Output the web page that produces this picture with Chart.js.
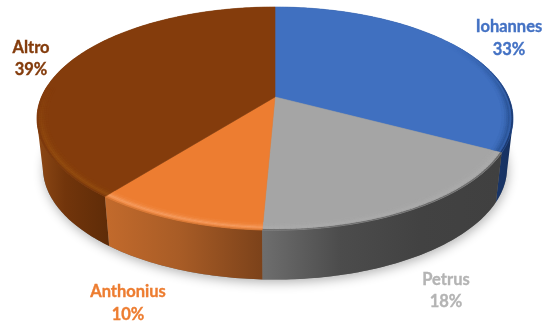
<!DOCTYPE html>
<html><head><meta charset="utf-8">
<style>html,body{margin:0;padding:0;background:#fff}canvas{display:block;filter:blur(0.4px)}</style>
<script src="https://cdn.jsdelivr.net/npm/chart.js@4"></script>
</head><body><canvas id="c" width="544" height="324"></canvas>
<script>
const categories = ['Iohannes','Petrus','Anthonius','Altro'];
const shares = [32.8,17.9,9.9,39.4];
const faceColors = ['#4070c0','#a5a5a5','#ed7d31','#843c0c'];
const labelColors = ['#4472c4','#b4b4b4','#ed7d31','#843c0c'];
const labelCentres = [[509,27,50],[446,280,302],[128,292,315],[31,48,70]];
const sideStops = [
  [[480,'#1c3a70'],[515,'#16305e']],
  [[262,'#6e6e6e'],[340,'#4c4c4c'],[420,'#424242'],[500,'#404040']],
  [[107,'#c26a2c'],[180,'#a85c26'],[262,'#7c421a']],
  [[38,'#8c4815'],[65,'#72350b'],[108,'#5f2c08']]
];
const rimEdge = ['#1c3a70','#6a6a6a','#d87a38','#7c3a0e'];
const rimPeak = ['#2c5699','#ababab','#f59c60','#924c10'];
const rimFadeStart = [0.55,0.15,0.15,0.1];
const paintOrder = [0,3,2,1];

const CX=275, CY=97, R=233.5, S=107.4, K=-0.193, DEPTH=49.5, BOTTOM_SCALE=0.975;
function proj(th,s,bottom){
  const u=Math.sin(th)*s, v=-Math.cos(th)*s, w=1+K*v, b=bottom?BOTTOM_SCALE:1;
  return [CX+R*b*u/w, CY+S*v/w+(bottom?DEPTH:0)];
}
function arcPts(a,b,s,bottom){
  const n=Math.max(4,Math.ceil(Math.abs(b-a)*60)),p=[];
  for(let i=0;i<=n;i++)p.push(proj(a+(b-a)*i/n,s,bottom));
  return p;
}
function poly(ctx,pts){ctx.beginPath();pts.forEach((p,i)=>i?ctx.lineTo(p[0],p[1]):ctx.moveTo(p[0],p[1]));ctx.closePath();}
function hex(c){return [1,3,5].map(i=>parseInt(c.substr(i,2),16));}
function mixRgb(x,y,t){return x.map((v,i)=>v+(y[i]-v)*t);}
function css(x){return 'rgb('+x.map(Math.round).join(',')+')';}
// the wall swept between the top rim and the bottom rim, so the silhouette stays smooth
function sweptWall(ctx,a,b){
  const n=Math.ceil((b-a)*60);
  ctx.beginPath();
  for(let k=0;k<n;k++){
    const t0=a+(b-a)*k/n, t1=a+(b-a)*(k+1)/n;
    const p=[proj(t0,1,false),proj(t1,1,false),proj(t1,1,true),proj(t0,1,true)];
    const area=(p[1][0]-p[0][0])*(p[2][1]-p[0][1])-(p[1][1]-p[0][1])*(p[2][0]-p[0][0]);
    if(area<0)p.reverse();
    p.forEach((q,j)=>j?ctx.lineTo(q[0],q[1]):ctx.moveTo(q[0],q[1]));
    ctx.closePath();
  }
  ctx.fill();
}

const pie3d={id:'pie3d',beforeDatasetsDraw(chart){
  const ctx=chart.ctx, arcs=chart.getDatasetMeta(0).data;
  const ang=arcs.map(e=>[e.startAngle+Math.PI/2,e.endAngle+Math.PI/2]);
  ctx.save();
  // soft ground shadow
  ctx.save();
  ctx.shadowColor='rgba(0,0,0,0.3)';ctx.shadowBlur=11;ctx.shadowOffsetY=3;ctx.shadowOffsetX=1;
  ctx.fillStyle='#777';
  poly(ctx,arcPts(0,Math.PI*2,1,true));ctx.fill();
  ctx.restore();
  // side walls
  paintOrder.forEach(i=>{
    const [a,b]=ang[i];
    const x0=sideStops[i][0][0],x1=sideStops[i][sideStops[i].length-1][0];
    const g=ctx.createLinearGradient(x0,0,x1,0);
    sideStops[i].forEach(st=>g.addColorStop((st[0]-x0)/(x1-x0),st[1]));
    ctx.fillStyle=g;
    sweptWall(ctx,a,b);
  });
  // top faces
  arcs.forEach((e,i)=>{
    const [a,b]=ang[i];
    ctx.fillStyle=faceColors[i];ctx.strokeStyle=faceColors[i];ctx.lineWidth=0.6;
    poly(ctx,[[CX,CY]].concat(arcPts(a,b,1,false)));ctx.fill();ctx.stroke();
  });
  // bevel along the rim, fading out toward the back
  const bands=[[1.0,0.993,'e',1],[0.993,0.986,'p',.6],[0.986,0.979,'p',1],[0.979,0.972,'p',.7],[0.972,0.964,'p',.35],[0.964,0.955,'p',.12]];
  arcs.forEach((e,i)=>{
    const a=ang[i][0], b=ang[i][1], n=Math.ceil((b-a)*50);
    const face=hex(faceColors[i]), edge=hex(rimEdge[i]), peak=hex(rimPeak[i]);
    for(let k=0;k<n;k++){
      const t0=a+(b-a)*k/n, t1=a+(b-a)*(k+1)/n;
      const v=-Math.cos((t0+t1)/2);
      const fade=Math.max(0,Math.min(1,(v+rimFadeStart[i])/0.6));
      if(fade<=0)continue;
      bands.forEach(bd=>{
        const target=bd[2]==='e'?edge:peak;
        const col=mixRgb(face,target,bd[3]*fade);
        ctx.fillStyle=css(col);ctx.strokeStyle=css(col);ctx.lineWidth=0.3;
        poly(ctx,[proj(t0,bd[0]),proj(t1,bd[0]),proj(t1,bd[1]),proj(t0,bd[1])]);ctx.fill();ctx.stroke();
      });
    }
  });
  // labels
  ctx.textAlign='center';ctx.textBaseline='middle';ctx.font='bold 16.5px Lato, "Open Sans", sans-serif';
  ctx.lineWidth=0.35;
  const total=shares.reduce((p,c)=>p+c,0);
  categories.forEach((n,i)=>{
    ctx.fillStyle=labelColors[i];ctx.strokeStyle=labelColors[i];
    const pct=Math.round(shares[i]/total*100)+'%';
    ctx.fillText(n,labelCentres[i][0],labelCentres[i][1]);ctx.strokeText(n,labelCentres[i][0],labelCentres[i][1]);
    ctx.fillText(pct,labelCentres[i][0],labelCentres[i][2]);ctx.strokeText(pct,labelCentres[i][0],labelCentres[i][2]);
  });
  ctx.restore();
  return false;
}};

new Chart(document.getElementById('c').getContext('2d'),{
  type:'pie',
  data:{labels:categories,datasets:[{data:shares,backgroundColor:faceColors,borderWidth:0}]},
  options:{responsive:false,animation:false,events:[],plugins:{legend:{display:false},tooltip:{enabled:false}}},
  plugins:[pie3d]
});
</script></body></html>
